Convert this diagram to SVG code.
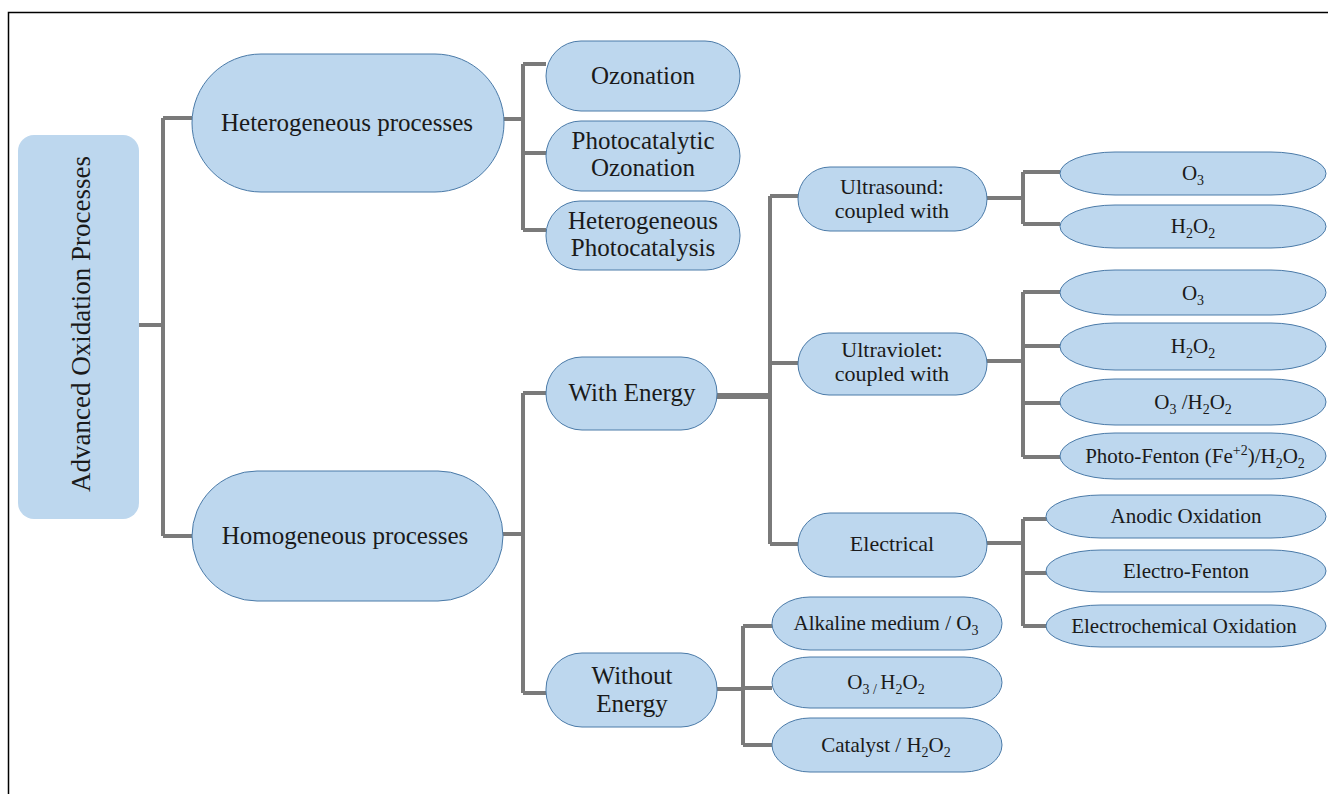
<svg xmlns="http://www.w3.org/2000/svg" width="1328" height="794" viewBox="0 0 1328 794" font-family="Times New Roman, Liberation Serif, serif">
<defs>
<style>
.n{fill:#bdd7ee;stroke:#4a7aa8;stroke-width:1}
.r{fill:#bdd7ee;stroke:none}
.c{fill:none;stroke:#7a7a7a;stroke-width:4}
</style>
</defs>
<rect x="0" y="0" width="1328" height="794" fill="#fff"/>
<rect x="8.5" y="12.5" width="1340" height="800" fill="none" stroke="#000" stroke-width="1.5"/>
<g id="connectors">
<path class="c" d="M138 325H163M163 118V536M163 118H192M163 536H192"/>
<path class="c" d="M504 119H523M523 64V230M523 64H546M523 153H546M523 230H546"/>
<path class="c" d="M503 534H523M523 393V693M523 393H546M523 693H546"/>
<path class="c" d="M717 396H770" style="stroke-width:6"/>
<path class="c" d="M770 196V544M770 196H798M770 363H798M770 544H798"/>
<path class="c" d="M987 198H1023M1023 172V224M1023 172H1060M1023 224H1060"/>
<path class="c" d="M987 361H1023M1023 292V457M1023 292H1060M1023 346H1060M1023 403H1060M1023 457H1060"/>
<path class="c" d="M987 543H1023M1023 519V626M1023 519H1047M1023 573H1047M1023 626H1047"/>
<path class="c" d="M717 689H743M743 626V745M743 626H772M743 688H772M743 745H772"/>
</g>
<g id="aop-node">
<rect class="r" x="18" y="135" width="121" height="384" rx="16"/>
<text font-family="Times New Roman, Liberation Serif, serif" font-size="27" fill="#1a1a1a" text-anchor="middle" transform="translate(90 324) rotate(-90)">Advanced Oxidation Processes</text>
</g>
<g id="heterogeneous">
<rect class="n" x="192" y="54" width="312" height="138" rx="69"/>
<text font-family="Times New Roman, Liberation Serif, serif" font-size="25" fill="#1a1a1a" text-anchor="middle" x="347" y="131">Heterogeneous processes</text>
</g>
<g id="homogeneous">
<rect class="n" x="192" y="471" width="311" height="130" rx="65"/>
<text font-family="Times New Roman, Liberation Serif, serif" font-size="25" fill="#1a1a1a" text-anchor="middle" x="345" y="544">Homogeneous processes</text>
</g>
<g id="ozonation">
<rect class="n" x="546" y="41" width="194" height="70" rx="35"/>
<text font-family="Times New Roman, Liberation Serif, serif" font-size="25" fill="#1a1a1a" text-anchor="middle" x="643" y="84">Ozonation</text>
</g>
<g id="photocatalytic-ozonation">
<rect class="n" x="546" y="121" width="194" height="70" rx="35"/>
<text font-family="Times New Roman, Liberation Serif, serif" font-size="25" fill="#1a1a1a" text-anchor="middle" x="643" y="149">Photocatalytic</text>
<text font-family="Times New Roman, Liberation Serif, serif" font-size="25" fill="#1a1a1a" text-anchor="middle" x="643" y="176">Ozonation</text>
</g>
<g id="heterogeneous-photocatalysis">
<rect class="n" x="546" y="201" width="194" height="69" rx="34"/>
<text font-family="Times New Roman, Liberation Serif, serif" font-size="25" fill="#1a1a1a" text-anchor="middle" x="643" y="229">Heterogeneous</text>
<text font-family="Times New Roman, Liberation Serif, serif" font-size="25" fill="#1a1a1a" text-anchor="middle" x="643" y="256">Photocatalysis</text>
</g>
<g id="with-energy">
<rect class="n" x="546" y="357" width="171" height="73" rx="36"/>
<text font-family="Times New Roman, Liberation Serif, serif" font-size="25" fill="#1a1a1a" text-anchor="middle" x="632" y="401">With Energy</text>
</g>
<g id="without-energy">
<rect class="n" x="546" y="653" width="171" height="74" rx="36"/>
<text font-family="Times New Roman, Liberation Serif, serif" font-size="25" fill="#1a1a1a" text-anchor="middle" x="632" y="684">Without</text>
<text font-family="Times New Roman, Liberation Serif, serif" font-size="25" fill="#1a1a1a" text-anchor="middle" x="632" y="712">Energy</text>
</g>
<g id="ultrasound">
<rect class="n" x="798" y="167" width="189" height="64" rx="32"/>
<text font-family="Times New Roman, Liberation Serif, serif" font-size="22" fill="#1a1a1a" text-anchor="middle" x="892" y="194">Ultrasound:</text>
<text font-family="Times New Roman, Liberation Serif, serif" font-size="22" fill="#1a1a1a" text-anchor="middle" x="892" y="218">coupled with</text>
</g>
<g id="ultraviolet">
<rect class="n" x="798" y="333" width="189" height="62" rx="31"/>
<text font-family="Times New Roman, Liberation Serif, serif" font-size="22" fill="#1a1a1a" text-anchor="middle" x="892" y="357">Ultraviolet:</text>
<text font-family="Times New Roman, Liberation Serif, serif" font-size="22" fill="#1a1a1a" text-anchor="middle" x="892" y="381">coupled with</text>
</g>
<g id="electrical">
<rect class="n" x="798" y="513" width="189" height="64" rx="32"/>
<text font-family="Times New Roman, Liberation Serif, serif" font-size="22" fill="#1a1a1a" text-anchor="middle" x="892" y="551">Electrical</text>
</g>
<g id="us-o3">
<rect class="n" x="1060" y="152" width="266" height="43" rx="55" ry="21.5"/>
<text font-family="Times New Roman, Liberation Serif, serif" font-size="21" fill="#1a1a1a" text-anchor="middle" x="1193" y="180">O<tspan font-size="14" dy="5">3</tspan></text>
</g>
<g id="us-h2o2">
<rect class="n" x="1060" y="205" width="266" height="43" rx="55" ry="21.5"/>
<text font-family="Times New Roman, Liberation Serif, serif" font-size="21" fill="#1a1a1a" text-anchor="middle" x="1193" y="233">H<tspan font-size="14" dy="5">2</tspan><tspan dy="-5">O</tspan><tspan font-size="14" dy="5">2</tspan></text>
</g>
<g id="uv-o3">
<rect class="n" x="1060" y="270" width="266" height="45" rx="55" ry="22.5"/>
<text font-family="Times New Roman, Liberation Serif, serif" font-size="21" fill="#1a1a1a" text-anchor="middle" x="1193" y="300">O<tspan font-size="14" dy="5">3</tspan></text>
</g>
<g id="uv-h2o2">
<rect class="n" x="1060" y="323" width="266" height="47" rx="55" ry="23.5"/>
<text font-family="Times New Roman, Liberation Serif, serif" font-size="21" fill="#1a1a1a" text-anchor="middle" x="1193" y="353">H<tspan font-size="14" dy="5">2</tspan><tspan dy="-5">O</tspan><tspan font-size="14" dy="5">2</tspan></text>
</g>
<g id="uv-o3-h2o2">
<rect class="n" x="1060" y="379" width="266" height="46" rx="55" ry="23"/>
<text font-family="Times New Roman, Liberation Serif, serif" font-size="21" fill="#1a1a1a" text-anchor="middle" x="1193" y="409">O<tspan font-size="14" dy="5">3</tspan><tspan dy="-5"> /H</tspan><tspan font-size="14" dy="5">2</tspan><tspan dy="-5">O</tspan><tspan font-size="14" dy="5">2</tspan></text>
</g>
<g id="photo-fenton">
<rect class="n" x="1060" y="433" width="266" height="46" rx="55" ry="23"/>
<text font-family="Times New Roman, Liberation Serif, serif" font-size="21" fill="#1a1a1a" text-anchor="middle" x="1195" y="463">Photo-Fenton (Fe<tspan font-size="14" dy="-8">+2</tspan><tspan dy="8">)/H</tspan><tspan font-size="14" dy="5">2</tspan><tspan dy="-5">O</tspan><tspan font-size="14" dy="5">2</tspan></text>
</g>
<g id="anodic">
<rect class="n" x="1046" y="495" width="280" height="43" rx="55" ry="21.5"/>
<text font-family="Times New Roman, Liberation Serif, serif" font-size="21" fill="#1a1a1a" text-anchor="middle" x="1186" y="523">Anodic Oxidation</text>
</g>
<g id="electro-fenton">
<rect class="n" x="1046" y="550" width="280" height="42" rx="55" ry="21"/>
<text font-family="Times New Roman, Liberation Serif, serif" font-size="21" fill="#1a1a1a" text-anchor="middle" x="1186" y="578">Electro-Fenton</text>
</g>
<g id="electrochemical">
<rect class="n" x="1046" y="605" width="280" height="42" rx="55" ry="21"/>
<text font-family="Times New Roman, Liberation Serif, serif" font-size="21" fill="#1a1a1a" text-anchor="middle" x="1184" y="633">Electrochemical Oxidation</text>
</g>
<g id="alkaline">
<rect class="n" x="772" y="597" width="230" height="53" rx="38" ry="26.5"/>
<text font-family="Times New Roman, Liberation Serif, serif" font-size="21" fill="#1a1a1a" text-anchor="middle" x="886" y="630">Alkaline medium / O<tspan font-size="14" dy="5">3</tspan></text>
</g>
<g id="we-o3-h2o2">
<rect class="n" x="772" y="657" width="230" height="51" rx="38" ry="25.5"/>
<text font-family="Times New Roman, Liberation Serif, serif" font-size="21" fill="#1a1a1a" text-anchor="middle" x="886" y="689">O<tspan font-size="14" dy="5">3 / </tspan><tspan dy="-5">H</tspan><tspan font-size="14" dy="5">2</tspan><tspan dy="-5">O</tspan><tspan font-size="14" dy="5">2</tspan></text>
</g>
<g id="catalyst">
<rect class="n" x="772" y="718" width="230" height="54" rx="38" ry="27"/>
<text font-family="Times New Roman, Liberation Serif, serif" font-size="21" fill="#1a1a1a" text-anchor="middle" x="886" y="752">Catalyst / H<tspan font-size="14" dy="5">2</tspan><tspan dy="-5">O</tspan><tspan font-size="14" dy="5">2</tspan></text>
</g>
</svg>
